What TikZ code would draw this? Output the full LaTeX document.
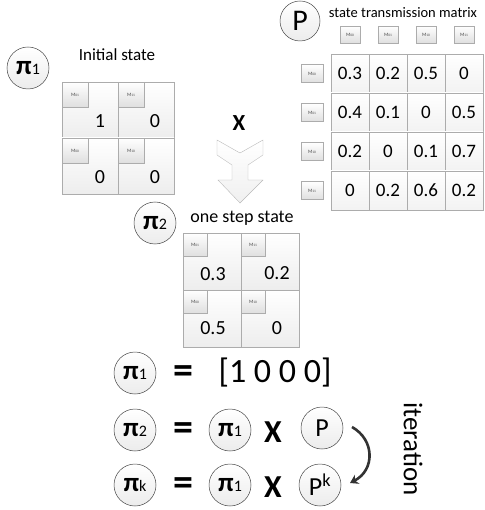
\documentclass[tikz,border=0pt]{standalone}
\usepackage{fontspec}
\setmainfont{Carlito}
\usetikzlibrary{shadows,arrows.meta}
\newcommand\fsz[1]{\fontsize{#1}{#1}\selectfont}
\newcommand\mlt[1]{M{\fsz{3.6}#1}}
\newcommand\pisub[1]{{\fsz{27}\bfseries π}{\fsz{16}#1}}
\begin{document}
\begin{tikzpicture}[x=1pt,y=-1pt,
  cellA/.style={draw=gray!65, top color=white, bottom color=gray!14, inner sep=0, minimum width=56pt, minimum height=56pt},
  cellB/.style={draw=gray!65, top color=white, bottom color=gray!14, inner sep=0, minimum width=58pt, minimum height=57pt},
  cellM/.style={draw=gray!65, top color=white, bottom color=gray!10, inner sep=0, minimum width=38pt, minimum height=39pt, font=\fsz{19}},
  mlab/.style={draw=gray!65, top color=white, bottom color=gray!25, inner sep=0, font=\fsz{5}, text=gray!60!black,
     drop shadow={opacity=0.25, shadow xshift=0.7pt, shadow yshift=-0.7pt}},
  labA/.style={mlab, minimum width=26pt, minimum height=25pt, anchor=north west},
  labB/.style={mlab, minimum width=24pt, minimum height=23pt, anchor=north west},
  labC/.style={mlab, minimum width=20pt, minimum height=17pt},
  labR/.style={mlab, minimum width=22pt, minimum height=18pt},
  circ/.style={circle, draw=gray!55!black, line width=0.5pt, top color=white, bottom color=gray!15, minimum size=42pt, inner sep=0},
  num/.style={font=\fsz{20}, inner sep=0},
  big/.style={font=\fsz{32}\bfseries, inner sep=0},
  eqs/.style={font=\fsz{40}\bfseries, inner sep=0},
  title/.style={inner sep=0}]
\useasboundingbox (0,0) rectangle (484,510);

% ---------- Initial state ----------
\node[circ] (pi1a) at (28,68) {\pisub{1}};
\node[title, font=\fsz{17}] (t1) at (117,55) {Initial state};
\node[cellA] (a01) at (90,110) {};
\node[cellA] (a11) at (146,110) {};
\node[cellA] (a00) at (90,166) {};
\node[cellA] (a10) at (146,166) {};
\node[labA] (la01) at (a01.north west) {\mlt{01}};
\node[labA] (la11) at (a11.north west) {\mlt{11}};
\node[labA] (la00) at (a00.north west) {\mlt{00}};
\node[labA] (la10) at (a10.north west) {\mlt{10}};
\node[num] (na01) at (100,121) {1};
\node[num] (na11) at (155,121) {0};
\node[num] (na00) at (100,177) {0};
\node[num] (na10) at (155,177) {0};

% ---------- X and arrow ----------
\node[font=\fsz{23}\bfseries, inner sep=0] (xop) at (239,123) {X};
\draw[draw=gray!55, top color=white, bottom color=gray!12]
  (217,140) -- (217,155) -- (232,165) -- (232,180) -- (218,180) -- (240,203)
  -- (263,180) -- (248,180) -- (248,165) -- (263,155) -- (263,140) -- (240,153) -- cycle;

% ---------- P matrix ----------
\node[circ, minimum size=40pt] (Pa) at (300,21) {\fsz{30}P};
\node[title, font=\fsz{14.5}] (t2) at (403,13) {state transmission matrix};
\foreach \n/\x in {00/350, 01/388, 10/426, 11/464}{
  \node[labC] (c\n) at (\x,34.5) {\mlt{\n}};
}
\foreach \n/\y in {00/73.5, 01/112.5, 10/151.5, 11/190.5}{
  \node[labR] (r\n) at (312,\y) {\mlt{\n}};
}
\foreach \row/\y/\va/\vb/\vc/\vd in {0/73.5/0.3/0.2/0.5/0, 1/112.5/0.4/0.1/0/0.5, 2/151.5/0.2/0/0.1/0.7, 3/190.5/0/0.2/0.6/0.2}{
  \node[cellM] (m\row a) at (350,\y) {\va};
  \node[cellM] (m\row b) at (388,\y) {\vb};
  \node[cellM] (m\row c) at (426,\y) {\vc};
  \node[cellM] (m\row d) at (464,\y) {\vd};
}

% ---------- one step state ----------
\node[circ] (pi2a) at (155,223) {\pisub{2}};
\node[title, font=\fsz{18}] (t3) at (242,218) {one step state};
\node[cellB] (b01) at (212,261.5) {};
\node[cellB] (b11) at (270,261.5) {};
\node[cellB] (b00) at (212,318.5) {};
\node[cellB] (b10) at (270,318.5) {};
\node[labB] (lb01) at (b01.north west) {\mlt{01}};
\node[labB] (lb11) at (b11.north west) {\mlt{11}};
\node[labB] (lb00) at (b00.north west) {\mlt{00}};
\node[labB] (lb10) at (b10.north west) {\mlt{10}};
\node[num] (nb01) at (213,274) {0.3};
\node[num] (nb11) at (277,273) {0.2};
\node[num] (nb00) at (213,328) {0.5};
\node[num] (nb10) at (277,328) {0};

% ---------- equations ----------
\node[circ] (e1a) at (135,373) {\pisub{1}};
\node[eqs] (e1eq) at (183,375) {=};
\node[font=\fsz{34}, inner sep=0] (e1v) at (275,373) {[1 0 0 0]};

\node[circ] (e2a) at (135,430) {\pisub{2}};
\node[eqs] (e2eq) at (183,432) {=};
\node[circ] (e2b) at (230,430) {\pisub{1}};
\node[big] (e2x) at (273,432) {X};
\node[circ] (e2c) at (322,428) {\fsz{26}P};

\node[circ] (e3a) at (135,485) {\pisub{k}};
\node[eqs] (e3eq) at (183,487) {=};
\node[circ] (e3b) at (230,485) {\pisub{1}};
\node[big] (e3x) at (273,487) {X};
\node[circ] (e3c) at (320,485) {\fsz{26}P\textsuperscript{k}};

\coordinate (it1) at (352,427);
\coordinate (it2) at (350,483);
\draw[line width=2.6pt, gray!40!black, -{Stealth[length=8pt,width=10pt]}]
  (it1) .. controls (375,440) and (375,470) .. (it2);
\node[rotate=-90, font=\fsz{27}, inner sep=0] (iter) at (413,449) {iteration};
\end{tikzpicture}
\end{document}
